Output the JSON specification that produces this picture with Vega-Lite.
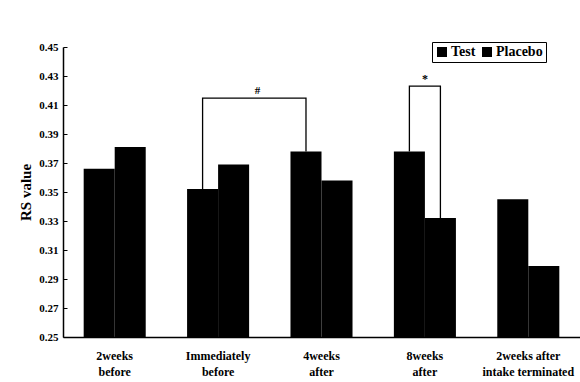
{
  "$schema": "https://vega.github.io/schema/vega-lite/v6.json",
  "width": 517,
  "height": 290,
  "autosize": {"type": "none"},
  "padding": {"left": 63, "top": 47, "right": 0, "bottom": 45},
  "background": "white",
  "config": {
    "view": {"stroke": null},
    "font": "Liberation Serif",
    "axis": {"labelFont": "Liberation Serif", "labelFontWeight": "bold", "titleFont": "Liberation Serif", "titleFontWeight": "bold", "domainColor": "black", "tickColor": "black", "labelColor": "black", "titleColor": "black", "grid": false, "labelOverlap": false, "labelBound": false, "labelFlush": false},
    "legend": {"labelFont": "Liberation Serif", "labelFontWeight": "bold"}
  },
  "datasets": {
    "bars": [
      {"period": "2weeks|before", "group": "Test", "rs": 0.366},
      {"period": "2weeks|before", "group": "Placebo", "rs": 0.381},
      {"period": "Immediately|before", "group": "Test", "rs": 0.352},
      {"period": "Immediately|before", "group": "Placebo", "rs": 0.369},
      {"period": "4weeks|after", "group": "Test", "rs": 0.378},
      {"period": "4weeks|after", "group": "Placebo", "rs": 0.358},
      {"period": "8weeks|after", "group": "Test", "rs": 0.378},
      {"period": "8weeks|after", "group": "Placebo", "rs": 0.332},
      {"period": "2weeks after|intake terminated", "group": "Test", "rs": 0.345},
      {"period": "2weeks after|intake terminated", "group": "Placebo", "rs": 0.299}
    ],
    "brackets": [
      {"id": "a", "ord": 1, "period": "Immediately|before", "group": "Test", "rs": 0.352},
      {"id": "a", "ord": 2, "period": "Immediately|before", "group": "Test", "rs": 0.4148},
      {"id": "a", "ord": 3, "period": "4weeks|after", "group": "Test", "rs": 0.4148},
      {"id": "a", "ord": 4, "period": "4weeks|after", "group": "Test", "rs": 0.378},
      {"id": "b", "ord": 1, "period": "8weeks|after", "group": "Test", "rs": 0.378},
      {"id": "b", "ord": 2, "period": "8weeks|after", "group": "Test", "rs": 0.423},
      {"id": "b", "ord": 3, "period": "8weeks|after", "group": "Placebo", "rs": 0.423},
      {"id": "b", "ord": 4, "period": "8weeks|after", "group": "Placebo", "rs": 0.332}
    ]
  },
  "layer": [
    {
      "data": {"name": "bars"},
      "mark": {"type": "bar", "fill": "black", "stroke": null},
      "encoding": {
        "x": {
          "field": "period", "type": "nominal", "sort": null,
          "scale": {"paddingInner": 0.4, "paddingOuter": 0.2},
          "axis": {"title": null, "labelAngle": 0, "labelExpr": "split(datum.label, '|')", "labelFontSize": 12, "labelLineHeight": 16, "labelPadding": 13, "ticks": false, "domainWidth": 1.5, "labelOverlap": false}
        },
        "xOffset": {"field": "group", "type": "nominal", "sort": ["Test", "Placebo"], "scale": {"paddingInner": 0, "paddingOuter": 0}},
        "y": {
          "field": "rs", "type": "quantitative",
          "scale": {"domain": [0.25, 0.45], "zero": false, "nice": false},
          "axis": {"title": "RS value", "titleFontSize": 15, "titlePadding": 5, "values": [0.25, 0.27, 0.29, 0.31, 0.33, 0.35, 0.37, 0.39, 0.41, 0.43, 0.45], "tickCount": 11, "labelOverlap": false, "format": ".2f", "labelFontSize": 11, "tickSize": -4, "labelPadding": 9, "domainWidth": 1.5}
        },
        "y2": {"datum": 0.25},
        "color": {
          "field": "group", "type": "nominal", "sort": ["Test", "Placebo"],
          "scale": {"domain": ["Test", "Placebo"], "range": ["black", "black"]},
          "legend": {"title": null, "orient": "none", "legendX": 369, "legendY": -5, "direction": "horizontal", "strokeColor": "black", "padding": 3, "symbolType": "square", "symbolSize": 100, "symbolStrokeWidth": 0, "labelFontSize": 14, "columnPadding": 4, "labelOffset": 2, "fillColor": "white"}
        }
      }
    },
    {
      "data": {"name": "brackets"},
      "mark": {"type": "line", "color": "black", "strokeWidth": 1.3, "interpolate": "linear"},
      "encoding": {
        "x": {"field": "period", "type": "nominal", "sort": null},
        "xOffset": {"field": "group", "type": "nominal", "sort": ["Test", "Placebo"]},
        "y": {"field": "rs", "type": "quantitative"},
        "detail": {"field": "id"},
        "order": {"field": "ord"}
      }
    },
    {
      "data": {"values": [{"period": "Immediately|before", "group": "Placebo", "rs": 0.4148, "t": "#"}]},
      "mark": {"type": "text", "fontWeight": "bold", "fontSize": 11, "baseline": "bottom", "dx": 24, "dy": -2, "color": "black"},
      "encoding": {
        "x": {"field": "period", "type": "nominal", "sort": null},
        "xOffset": {"field": "group", "type": "nominal", "sort": ["Test", "Placebo"]},
        "y": {"field": "rs", "type": "quantitative"},
        "text": {"field": "t"}
      }
    },
    {
      "data": {"values": [{"period": "8weeks|after", "rs": 0.423, "t": "*"}]},
      "mark": {"type": "text", "fontWeight": "bold", "fontSize": 12, "baseline": "bottom", "dy": 0, "color": "black"},
      "encoding": {
        "x": {"field": "period", "type": "nominal", "sort": null},
        "y": {"field": "rs", "type": "quantitative"},
        "text": {"field": "t"}
      }
    }
  ]
}
